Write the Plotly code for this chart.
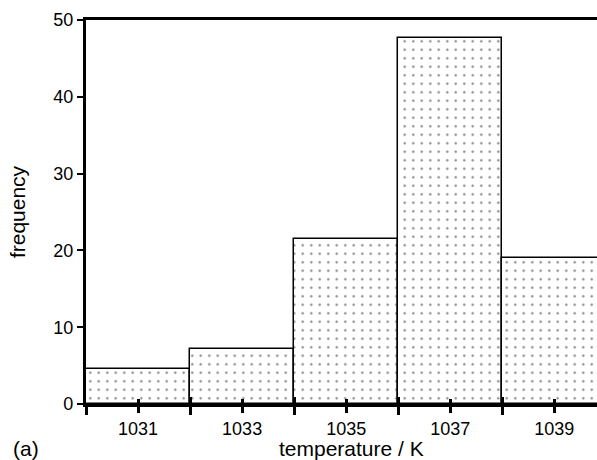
import plotly.graph_objects as go

# Histogram of measured temperatures (2 K bins)
bin_centers = [1031, 1033, 1035, 1037, 1039]
bin_edges = [1030, 1032, 1034, 1036, 1038, 1040]
frequency = [4.5, 7.1, 21.5, 47.6, 19.0]
y_ticks = [0, 10, 20, 30, 40, 50]

FONT = "Liberation Sans, Arial, sans-serif"
dots = dict(shape=".", size=8.5, solidity=0.06, fgcolor="black", bgcolor="white")

fig = go.Figure()
fig.add_trace(go.Bar(
    x=bin_centers, y=frequency, width=2,
    marker=dict(color="white", pattern=dots, line=dict(color="black", width=1.5)),
    hoverinfo="skip", showlegend=False,
))
# invisible twin so the overlay axis (inner half of the x ticks) is drawn
fig.add_trace(go.Bar(
    x=bin_centers, y=frequency, width=2, xaxis="x2", opacity=0,
    hoverinfo="skip", showlegend=False,
))

xcommon = dict(range=[1030, 1039.82], tickmode="array", tickvals=bin_centers,
               tickwidth=2.5, tickcolor="black", showgrid=False, zeroline=False)

fig.update_layout(
    width=597, height=460,
    margin=dict(l=86, r=0, t=20, b=55.5),
    plot_bgcolor="white", paper_bgcolor="white",
    bargap=0,
    barmode="overlay",
    font=dict(family=FONT, size=18, color="black"),
    xaxis=dict(
        **xcommon, ticks="outside", ticklen=6,
        showline=True, linecolor="black", linewidth=3, mirror=True,
        minor=dict(tickmode="array", tickvals=bin_edges, ticks="outside",
                   ticklen=8, tickwidth=2.5, tickcolor="black"),
        tickfont=dict(size=18),
    ),
    xaxis2=dict(
        **xcommon, ticks="inside", overlaying="x", anchor="y", side="bottom",
        ticklen=5, showticklabels=False, showline=False,
        minor=dict(tickmode="array", tickvals=bin_edges, ticks="inside",
                   ticklen=7, tickwidth=2.5, tickcolor="black"),
    ),
    yaxis=dict(
        range=[0, 50], tickmode="array", tickvals=y_ticks, ticks="outside",
        ticklen=6, tickwidth=1.5, tickcolor="black",
        showline=True, linecolor="black", linewidth=3.3,
        showgrid=False, zeroline=False,
        tickfont=dict(size=18),
        title=dict(text="frequency", standoff=22, font=dict(size=21)),
    ),
    annotations=[
        dict(text="temperature / K", xref="paper", yref="paper", x=0.5186, y=-0.08,
             xanchor="center", yanchor="top", showarrow=False, font=dict(size=21)),
        dict(text="(a)", xref="paper", yref="paper", x=-0.147, y=-0.08,
             xanchor="left", yanchor="top", showarrow=False, font=dict(size=21)),
    ],
)

fig.write_html("out.html")
